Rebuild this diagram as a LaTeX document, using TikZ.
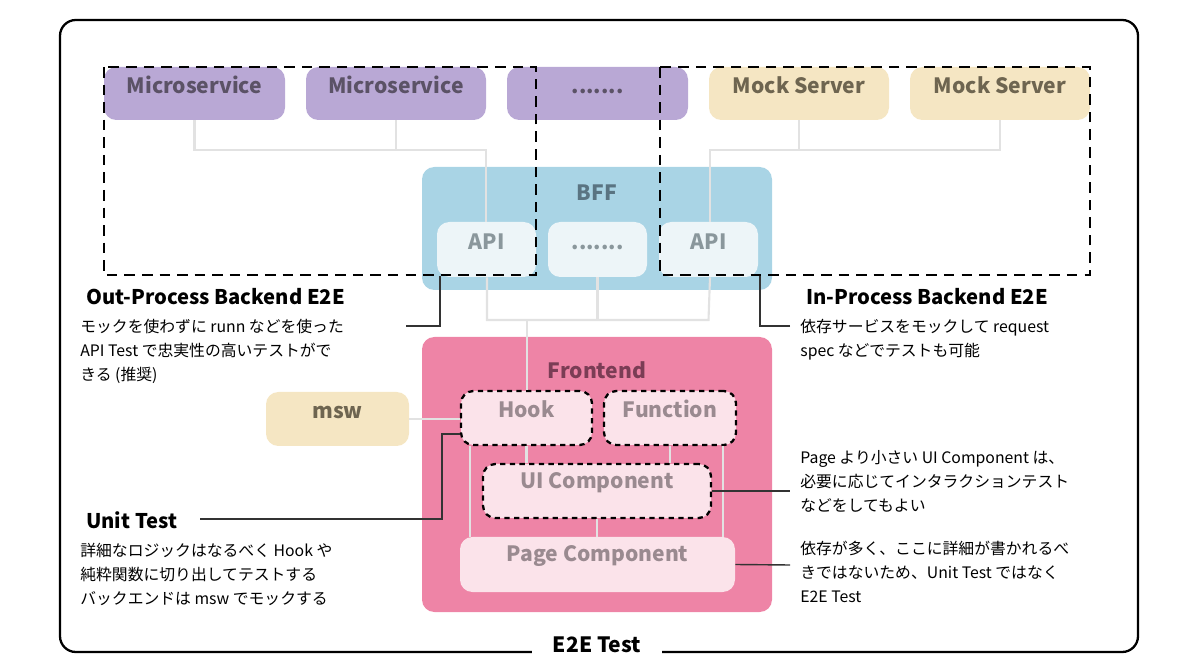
\documentclass[tikz,border=0pt]{standalone}
\usepackage{fontspec}
\setmainfont{Noto Sans CJK JP}
\usetikzlibrary{positioning, fit}
\definecolor{purp}{HTML}{B9A8D5}
\definecolor{purptxt}{HTML}{5B5266}
\definecolor{mock}{HTML}{F5E6C3}
\definecolor{mocktxt}{HTML}{6E6550}
\definecolor{bff}{HTML}{A9D4E5}
\definecolor{bfftxt}{HTML}{5A7482}
\definecolor{api}{HTML}{EDF5F8}
\definecolor{apitxt}{HTML}{8A979C}
\definecolor{front}{HTML}{EE84A6}
\definecolor{fronttxt}{HTML}{7B3D55}
\definecolor{comp}{HTML}{FBE3EA}
\definecolor{comptxt}{HTML}{9A8A90}
\definecolor{wire}{HTML}{E2E2E2}
\tikzset{
  box/.style={rounded corners=7pt, inner sep=0pt, font=\bfseries\fontsize{12}{14}\selectfont},
  svc/.style={box, fill=purp, text=purptxt},
  msv/.style={box, fill=mock, text=mocktxt},
  apibox/.style={box, fill=api, text=apitxt},
  cmp/.style={box, fill=comp, text=comptxt},
  dcmp/.style={cmp, draw=black, line width=1.3pt, dash pattern=on 3pt off 2.5pt},
  wire/.style={draw=wire, line width=1.2pt},
  lead/.style={draw=black!80, line width=0.8pt},
  head/.style={anchor=base west, font=\bfseries\fontsize{11.5}{13}\selectfont},
  note/.style={anchor=base west, font=\fontsize{9}{13.6}\selectfont, align=left, inner sep=0pt},
}
\begin{document}
\begin{tikzpicture}[x=0.02cm, y=-0.02cm]
		\useasboundingbox (0,0) rectangle (1200,668);

		% E2E Test
		\draw[line width=1.3pt, rounded corners=9pt] (60,20) rectangle (1138,652);
		\node[fill=white, inner xsep=12pt, font=\bfseries\fontsize{12}{14}\selectfont] (e2e) at (597,645) {E2E Test};

		% Services
		\node[svc, fit={(104,67) (285,120)}] (m1) {Microservice};
		\node[svc, fit={(306,67) (486,120)}] (m2) {Microservice};
		\node[svc, fit={(507,67) (688,120)}] (m3) {.......};
		\node[msv, fit={(709,67) (889,120)}] (s1) {Mock Server};
		\node[msv, fit={(910,67) (1090,120)}] (s2) {Mock Server};

		% BFF
		\node[box, fill=bff, fit={(422,167) (772,290)}] (bff) {};
		\node[box, text=bfftxt, below=10pt of bff.north] {BFF};
		\node[apibox, fit={(437,222) (536,277)}] (a1) {API};
		\node[apibox, fit={(548,222) (647,277)}] (a2) {.......};
		\node[apibox, fit={(659,222) (758,277)}] (a3) {API};

		% Frontend
		\node[box, fill=front, fit={(422,337) (772,612)}] (fe) {};
		\node[box, text=fronttxt, below=14pt of fe.north] {Frontend};
		\node[msv, fit={(266,392) (409,446)}] (msw) {msw};
		\node[dcmp, fit={(461,391) (592,445)}] (hook) {Hook};
		\node[dcmp, fit={(604,391) (736,445)}] (fn) {Function};
		\node[dcmp, fit={(483,464) (711,518)}] (ui) {UI Component};
		\node[cmp, fit={(460,537) (735,592)}] (page) {Page Component};

		% Verbindungen
		\coordinate (t1) at (486,150);
		\coordinate (t2) at (710,150);
		\draw[wire] (m1.south) |- (t1) -- (a1.north -| t1);
		\draw[wire] (m2.south) -- (m2.south |- t1);
		\draw[wire] (s2.south) |- (t2) -- (a3.north -| t2);
		\draw[wire] (s1.south) -- (s1.south |- t2);
		\coordinate (b1) at (487,320);
		\coordinate (b2) at (527,320);
		\draw[wire] (a1.south -| b1) |- (a3.south |- b1) -- (a3.south -| 710,0);
		\draw[wire] (a2.south) -- (a2.south |- b1);
		\draw[wire] (b2) -- (hook.north -| b2);
		\draw[wire] (msw.east) -- (hook.west |- msw.east);
		\draw[wire] (hook.south) -- (ui.north -| hook.south);
		\draw[wire] (fn.south) -- (ui.north -| fn.south);
		\draw[wire] (ui.south) -- (page.north -| ui.south);
		\draw[wire] (hook.south -| 470,0) -- (page.north -| 470,0);
		\draw[wire] (fn.south -| 723,0) -- (page.north -| 723,0);

		% Bereiche
		\draw[line width=1.3pt, dash pattern=on 6pt off 4pt] (104,67) rectangle (536,275);
		\draw[line width=1.3pt, dash pattern=on 6pt off 4pt] (660,67) rectangle (1090,275);

		% Hinweise
		\node[head] (op) at (80,305) {Out-Process Backend E2E};
		\node[note, below=8pt of op.base west, anchor=north west] (opn) {モックを使わずに runn などを使った\\API Test で忠実性の高いテストがで\\きる (推奨)};
		\node[head] (ip) at (800,305) {In-Process Backend E2E};
		\node[note, below=8pt of ip.base west, anchor=north west] (ipn) {依存サービスをモックして request\\spec などでテストも可能};
		\node[head] (ut) at (80,529) {Unit Test};
		\node[note, below=8pt of ut.base west, anchor=north west] (utn) {詳細なロジックはなるべく Hook や\\純粋関数に切り出してテストする\\バックエンドは msw でモックする};
		\node[note, anchor=north west] (uin) at (800,450) {Page より小さい UI Component は、\\必要に応じてインタラクションテスト\\などをしてもよい};
		\node[note, anchor=north west] (pgn) at (800,541) {依存が多く、ここに詳細が書かれるべ\\きではないため、Unit Test ではなく\\E2E Test};

		\coordinate (k1) at (440,276);
		\coordinate (k2) at (760,276);
		\draw[lead] (406,326) -| (k1);
		\draw[lead] (790,326) -| (k2);
		\draw[lead] (200,519) -| (442,434) -- (hook.west |- 0,434);
		\draw[lead] (ui.east) -- (790,491);
		\draw[lead] (page.east) -- (790,565);
	\end{tikzpicture}
\end{document}
